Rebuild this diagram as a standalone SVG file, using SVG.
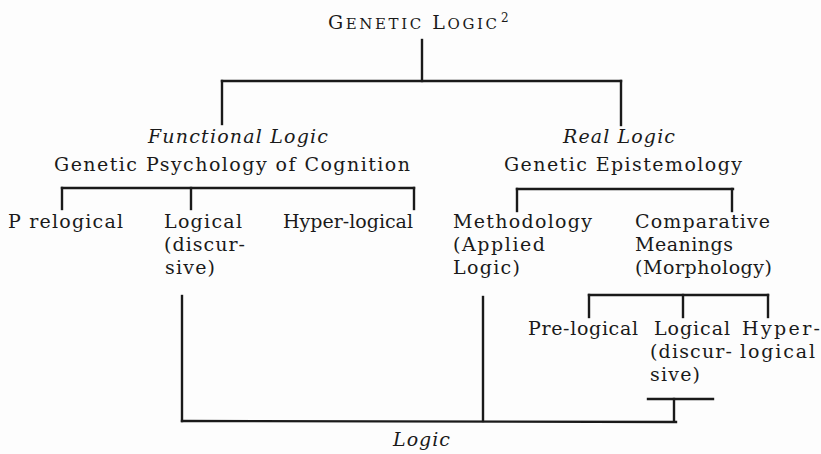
<svg xmlns="http://www.w3.org/2000/svg" width="821" height="454" viewBox="0 0 821 454">
<style>
text{font-family:'DejaVu Serif','Liberation Serif',serif;font-size:19px;fill:#1a1a1a}
.it{font-style:italic}
.sc{font-size:15px}
#connectors line{stroke:#1a1a1a;stroke-width:2.4;stroke-linecap:square}
</style>
<rect width="821" height="454" fill="#fdfdfd"/>
<g id="connectors">
<line x1="422" y1="40" x2="422" y2="81"/>
<line x1="222" y1="81" x2="621" y2="81"/>
<line x1="222" y1="81" x2="222" y2="124"/>
<line x1="621" y1="81" x2="621" y2="125"/>
<line x1="62" y1="188" x2="414" y2="188"/>
<line x1="62" y1="188" x2="62" y2="209"/>
<line x1="191" y1="188" x2="191" y2="209"/>
<line x1="414" y1="188" x2="414" y2="209"/>
<line x1="517" y1="189" x2="733" y2="189"/>
<line x1="517" y1="189" x2="517" y2="211"/>
<line x1="732" y1="189" x2="732" y2="211"/>
<line x1="182" y1="296" x2="182" y2="421"/>
<line x1="483" y1="297" x2="483" y2="421"/>
<line x1="589" y1="295" x2="768" y2="295"/>
<line x1="589" y1="295" x2="589" y2="317"/>
<line x1="683" y1="295" x2="683" y2="317"/>
<line x1="768" y1="295" x2="768" y2="317"/>
<line x1="648" y1="399" x2="713" y2="399"/>
<line x1="674" y1="399" x2="674" y2="421"/>
<line x1="182" y1="421" x2="676" y2="422"/>
</g>
<g id="genetic-logic">
<text x="328" y="29" textLength="169" lengthAdjust="spacing">G<tspan class="sc">ENETIC</tspan> L<tspan class="sc">OGIC</tspan></text>
<text x="501" y="22" style="font-size:12px">2</text>
</g>
<g id="functional-logic">
<text class="it" x="148" y="143" textLength="180" lengthAdjust="spacing">Functional Logic</text>
<text x="54" y="171" textLength="356" lengthAdjust="spacing">Genetic Psychology of Cognition</text>
</g>
<g id="real-logic">
<text class="it" x="563" y="143" textLength="112" lengthAdjust="spacing">Real Logic</text>
<text x="504" y="171" textLength="238" lengthAdjust="spacing">Genetic Epistemology</text>
</g>
<g id="prelogical">
<text x="8" y="228" textLength="115" lengthAdjust="spacing">P relogical</text>
</g>
<g id="logical">
<text x="164" y="228" textLength="78" lengthAdjust="spacing">Logical</text>
<text x="164" y="251" textLength="81" lengthAdjust="spacing">(discur-</text>
<text x="165" y="274" textLength="50" lengthAdjust="spacing">sive)</text>
</g>
<g id="hyperlogical">
<text x="283" y="228" textLength="130" lengthAdjust="spacing">Hyper-logical</text>
</g>
<g id="methodology">
<text x="453" y="228" textLength="139" lengthAdjust="spacing">Methodology</text>
<text x="453" y="251" textLength="92" lengthAdjust="spacing">(Applied</text>
<text x="453" y="274" textLength="67" lengthAdjust="spacing">Logic)</text>
</g>
<g id="comparative">
<text x="635" y="228" textLength="135" lengthAdjust="spacing">Comparative</text>
<text x="635" y="251" textLength="98" lengthAdjust="spacing">Meanings</text>
<text x="635" y="274" textLength="137" lengthAdjust="spacing">(Morphology)</text>
</g>
<g id="pre-logical-2">
<text x="528" y="335" textLength="110" lengthAdjust="spacing">Pre-logical</text>
</g>
<g id="logical-2">
<text x="654" y="335" textLength="76" lengthAdjust="spacing">Logical</text>
<text x="650" y="358" textLength="82" lengthAdjust="spacing">(discur-</text>
<text x="650" y="381" textLength="50" lengthAdjust="spacing">sive)</text>
</g>
<g id="hyper-logical-2">
<text x="742" y="335" textLength="78" lengthAdjust="spacing">Hyper-</text>
<text x="740" y="358" textLength="75" lengthAdjust="spacing">logical</text>
</g>
<g id="logic">
<text class="it" x="393" y="446" textLength="57" lengthAdjust="spacing">Logic</text>
</g>
</svg>
